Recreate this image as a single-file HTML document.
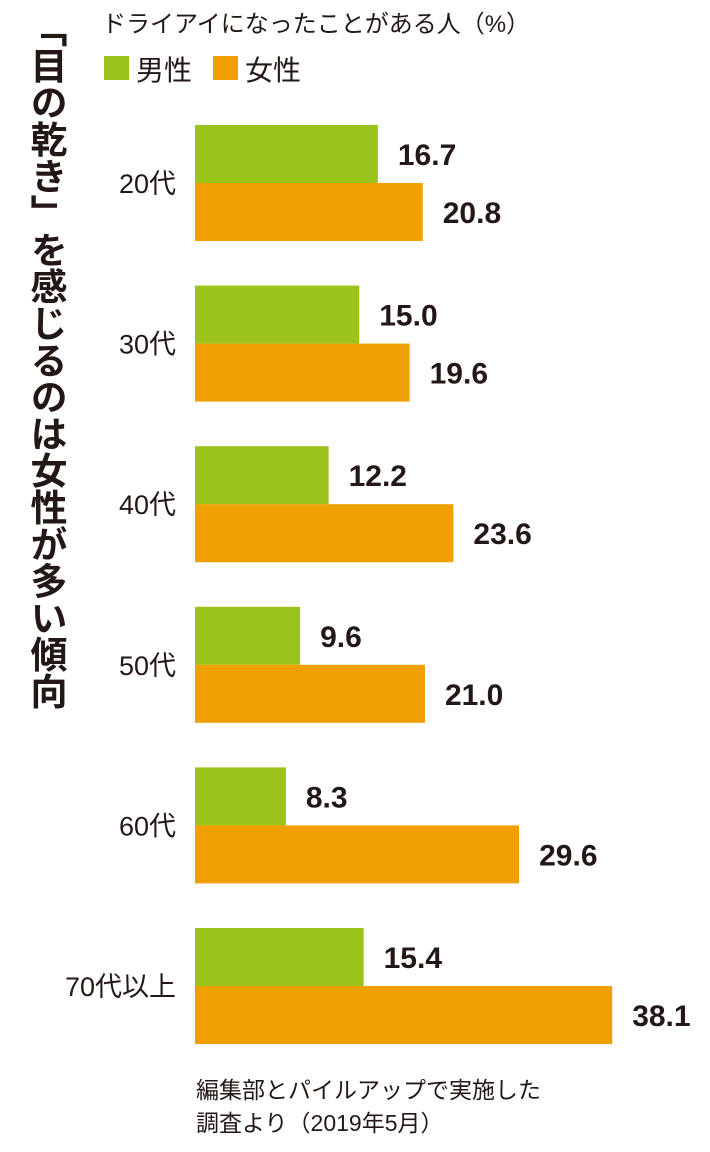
<!DOCTYPE html>
<html><head><meta charset="utf-8"><style>
body{margin:0;width:710px;height:1152px;background:#fff;position:relative;overflow:hidden;font-family:"Liberation Sans","Noto Sans CJK JP",sans-serif;color:#231815}
.t{position:absolute;white-space:nowrap}
#title{position:absolute;left:24px;top:10px;writing-mode:vertical-rl;font-size:37px;font-weight:bold;line-height:42px;letter-spacing:-0.2px}
</style></head><body>
<div id="title">「目の乾き」を感じるのは女性が多い傾向</div>
<div class="t" style="left:102px;top:4px;font-size:24px">ドライアイになったことがある人（%）</div>
<div style="position:absolute;left:104px;top:56px;width:25px;height:24px;background:#9bc41a"></div>
<div class="t" style="left:136px;top:49px;font-size:28px">男性</div>
<div style="position:absolute;left:213px;top:56px;width:25px;height:24px;background:#f0a000"></div>
<div class="t" style="left:245px;top:49px;font-size:28px">女性</div>
<svg id="chart" width="710" height="1152" style="position:absolute;left:0;top:0"></svg>
<div class="t" style="left:196px;top:1074px;font-size:23px;line-height:33px">編集部とパイルアップで実施した<br>調査より（2019年5月）</div>
<script>
const categories=["20代","30代","40代","50代","60代","70代以上"];
const male=[16.7,15.0,12.2,9.6,8.3,15.4];
const female=[20.8,19.6,23.6,21.0,29.6,38.1];
const svg=document.getElementById('chart');
const NS='http://www.w3.org/2000/svg';
const x0=195,scale=10.95,top0=125,pitch=160.6,bh=58;
function xs(v){return v*scale;}
function mk(tag,attrs){const e=document.createElementNS(NS,tag);for(const k in attrs)e.setAttribute(k,attrs[k]);svg.appendChild(e);return e;}
categories.forEach((c,i)=>{
  const y=top0+i*pitch;
  const lab=mk('text',{x:176,y:y+bh+10,'text-anchor':'end','font-size':27,fill:'#231815'});
  lab.textContent=c;
  
  
  [[male[i],'#9bc41a',y,'bar-male'],[female[i],'#f0a000',y+bh,'bar-female']].forEach(([v,col,yy,nm])=>{
    const r=mk('rect',{x:x0,y:yy,width:xs(v),height:bh,fill:col});
    
    
    const t=mk('text',{x:x0+xs(v)+20,y:yy+bh/2+11,'font-size':30,'font-weight':'bold',fill:'#231815'});
    t.textContent=v.toFixed(1);
    
    
  });
});
</script>
</body></html>
